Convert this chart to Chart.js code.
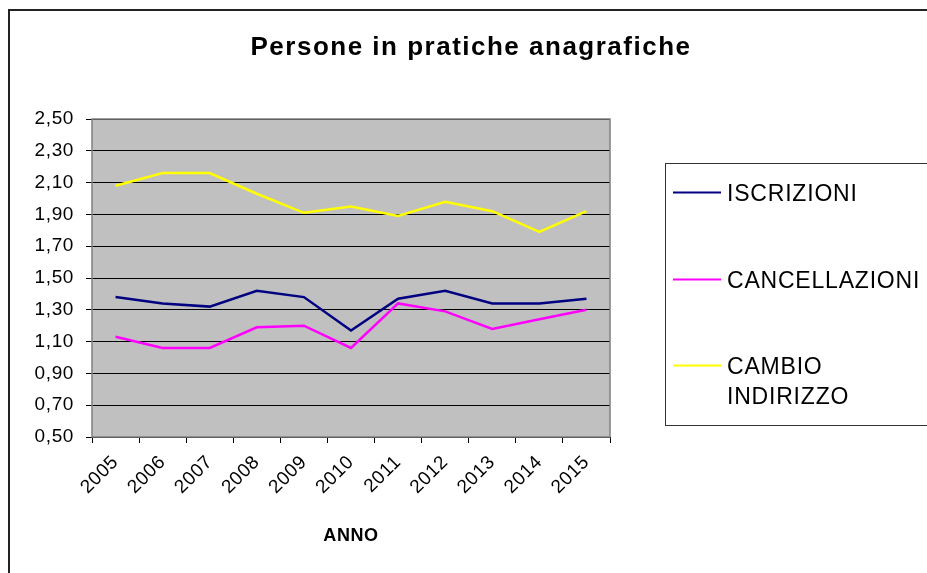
<!DOCTYPE html>
<html><head><meta charset="utf-8">
<script src="https://cdn.jsdelivr.net/npm/chart.js@4.4.1/dist/chart.umd.min.js"></script>
<style>html,body{margin:0;padding:0;background:#fff;}canvas{display:block;}</style>
</head><body>
<canvas id="c" width="927" height="573"></canvas>
<script>
const categories = ['2005','2006','2007','2008','2009','2010','2011','2012','2013','2014','2015'];
const iscrizioni = [1.38,1.34,1.32,1.42,1.38,1.17,1.37,1.42,1.34,1.34,1.37];
const cancellazioni = [1.13,1.06,1.06,1.19,1.20,1.06,1.34,1.29,1.18,1.24,1.30];
const cambioIndirizzo = [2.08,2.16,2.16,2.03,1.91,1.95,1.89,1.98,1.92,1.79,1.92];
const yTickValues = [0.5,0.7,0.9,1.1,1.3,1.5,1.7,1.9,2.1,2.3,2.5];
const seriesNames = ['ISCRIZIONI','CANCELLAZIONI','CAMBIO INDIRIZZO'];
const seriesColors = ['#000080','#FF00FF','#FFFF00'];
const chartTitle = 'Persone in pratiche anagrafiche';
const xTitle = 'ANNO';

const FONT = "'Liberation Sans', Arial, sans-serif";
const BASE_LS = '0.6px';

function wrapWords(ctx, text, maxW){
  const words = text.split(' ');
  const lines = [];
  let cur = '';
  for (const w of words){
    const t = cur ? cur + ' ' + w : w;
    if (cur && ctx.measureText(t).width > maxW){ lines.push(cur); cur = w; }
    else cur = t;
  }
  if (cur) lines.push(cur);
  return lines;
}

const decor = {
  id: 'decor',
  beforeLayout(chart){ chart.ctx.letterSpacing = BASE_LS; },
  beforeDraw(chart){
    const {ctx, chartArea: a} = chart;
    ctx.save();
    ctx.fillStyle = '#fff';
    ctx.fillRect(0, 0, chart.width, chart.height);
    ctx.fillStyle = '#C0C0C0';
    ctx.fillRect(a.left, a.top, a.right - a.left, a.bottom - a.top);
    ctx.strokeStyle = '#222';
    ctx.lineWidth = 2;
    ctx.beginPath();
    ctx.moveTo(9, chart.height + 2);
    ctx.lineTo(9, 10);
    ctx.lineTo(chart.width + 2, 10);
    ctx.stroke();
    ctx.restore();
    ctx.letterSpacing = BASE_LS;
  },
  beforeDatasetsDraw(chart){
    const {ctx, chartArea: a} = chart;
    ctx.save();
    ctx.strokeStyle = '#808080';
    ctx.lineWidth = 1.5;
    ctx.strokeRect(a.left, a.top, a.right - a.left, a.bottom - a.top);
    ctx.restore();
  },
  afterDraw(chart){
    const ctx = chart.ctx;
    ctx.save();
    // title
    ctx.letterSpacing = '1.5px';
    ctx.font = 'bold 26px ' + FONT;
    ctx.fillStyle = '#000';
    ctx.textAlign = 'center';
    ctx.textBaseline = 'alphabetic';
    ctx.fillText(chartTitle, 471, 55);
    // legend
    ctx.strokeStyle = '#333';
    ctx.lineWidth = 1;
    ctx.strokeRect(665.5, 163.5, 300, 262);
    const rowY = [192.5, 279.5, 365.5];
    ctx.letterSpacing = '0.8px';
    ctx.font = '23px ' + FONT;
    ctx.textAlign = 'left';
    chart.data.datasets.forEach((ds, i) => {
      const y = rowY[i];
      ctx.strokeStyle = ds.borderColor;
      ctx.lineWidth = 2;
      ctx.beginPath();
      ctx.moveTo(673, y);
      ctx.lineTo(721, y);
      ctx.stroke();
      const lines = wrapWords(ctx, ds.label, 198);
      lines.forEach((ln, k) => {
        ctx.fillText(ln, 727, y + 8 + k * 30);
      });
    });
    ctx.restore();
  }
};

new Chart(document.getElementById('c'), {
  type: 'line',
  data: {
    labels: categories,
    datasets: [
      {label: seriesNames[0], data: iscrizioni, borderColor: seriesColors[0]},
      {label: seriesNames[1], data: cancellazioni, borderColor: seriesColors[1]},
      {label: seriesNames[2], data: cambioIndirizzo, borderColor: seriesColors[2]}
    ].map(d => Object.assign(d, {borderWidth: 2.5, pointRadius: 0, pointHoverRadius: 0, tension: 0, fill: false}))
  },
  options: {
    responsive: false,
    animation: false,
    devicePixelRatio: 1,
    layout: {padding: {top: 119, right: 317, left: 0, bottom: 0}},
    plugins: {legend: {display: false}, title: {display: false}, tooltip: {enabled: false}},
    scales: {
      x: {
        type: 'category',
        offset: true,
        afterFit(s){ s.height = 136; },
        ticks: {color: '#000', font: {family: FONT, size: 19}, maxRotation: 45, minRotation: 45, padding: 8, autoSkip: false},
        grid: {offset: true, drawOnChartArea: false, color: '#000', lineWidth: 1, tickLength: 6},
        border: {display: false},
        title: {display: true, text: xTitle, color: '#000', font: {family: FONT, size: 18, weight: 'bold'}, padding: {top: 4, bottom: 26}}
      },
      y: {
        min: 0.5,
        max: 2.5,
        afterBuildTicks(s){ s.ticks = yTickValues.map(v => ({value: v})); },
        afterFit(s){ s.width = 92; },
        ticks: {color: '#000', font: {family: FONT, size: 19}, padding: 12, callback: v => v.toFixed(2).replace('.', ',')},
        grid: {color: '#000', lineWidth: 1, tickLength: 6},
        border: {display: false}
      }
    }
  },
  plugins: [decor]
});
</script>
</body></html>
